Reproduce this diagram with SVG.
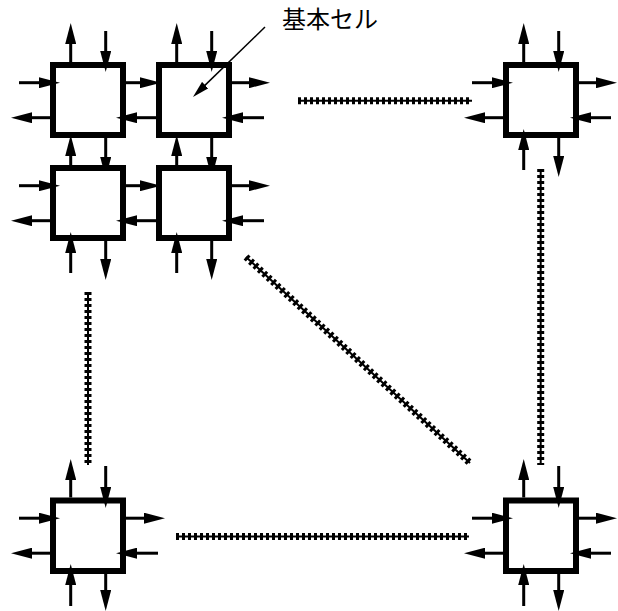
<svg xmlns="http://www.w3.org/2000/svg" width="618" height="611" viewBox="0 0 618 611">
<defs>
<style>
.box{fill:#fff;stroke:#000;stroke-width:6}
.a{stroke:#000;stroke-width:3;fill:none;marker-end:url(#ah)}
.rail{stroke:#000;stroke-width:2;fill:none}
.tick{stroke:#000;stroke-width:7;fill:none;stroke-dasharray:3 3}
.lbl{font-family:"Noto Sans CJK JP","Noto Sans",sans-serif;font-size:24px;fill:#000}
</style>
<marker id="ah" markerUnits="userSpaceOnUse" markerWidth="21" markerHeight="11" viewBox="0 0 21 11" refX="11" refY="5.5" orient="auto"><path d="M0,0 L21,5.5 L0,11 z" fill="#000"/></marker>
<marker id="lh" markerUnits="userSpaceOnUse" markerWidth="17" markerHeight="9" viewBox="0 0 17 9" refX="9" refY="4.5" orient="auto"><path d="M0,0 L17,4.5 L0,9 z" fill="#000"/></marker>
</defs>
<rect width="618" height="611" fill="#fff"/>

<g id="cellA">
<rect class="box" x="53" y="65" width="70" height="70"/>
<line class="a" x1="70.7" y1="62" x2="70.7" y2="33"/>
<line class="a" x1="105.7" y1="31" x2="105.7" y2="62"/>
<line class="a" x1="19" y1="82.7" x2="50" y2="82.7"/>
<line class="a" x1="50" y1="117.7" x2="21" y2="117.7"/>
<line class="a" x1="126" y1="82.7" x2="151" y2="82.7"/>
<line class="a" x1="156" y1="117.7" x2="126" y2="117.7"/>
<line class="a" x1="105.7" y1="138" x2="105.7" y2="168"/>
<line class="a" x1="70.7" y1="165" x2="70.7" y2="145"/>
</g>

<g id="cellB">
<rect class="box" x="159" y="65" width="70" height="70"/>
<line class="a" x1="176.7" y1="62" x2="176.7" y2="33"/>
<line class="a" x1="211.7" y1="31" x2="211.7" y2="62"/>
<line class="a" x1="232" y1="82.7" x2="260" y2="82.7"/>
<line class="a" x1="264" y1="117.7" x2="232" y2="117.7"/>
<line class="a" x1="211.7" y1="138" x2="211.7" y2="168"/>
<line class="a" x1="176.7" y1="165" x2="176.7" y2="145"/>
</g>

<g id="cellC">
<rect class="box" x="53" y="168" width="70" height="70"/>
<line class="a" x1="19" y1="185.7" x2="50" y2="185.7"/>
<line class="a" x1="50" y1="220.7" x2="21" y2="220.7"/>
<line class="a" x1="126" y1="185.7" x2="151" y2="185.7"/>
<line class="a" x1="156" y1="220.7" x2="126" y2="220.7"/>
<line class="a" x1="70.7" y1="273" x2="70.7" y2="242"/>
<line class="a" x1="105.7" y1="241" x2="105.7" y2="270"/>
</g>

<g id="cellD">
<rect class="box" x="159" y="168" width="70" height="70"/>
<line class="a" x1="232" y1="185.7" x2="260" y2="185.7"/>
<line class="a" x1="264" y1="220.7" x2="232" y2="220.7"/>
<line class="a" x1="176.7" y1="273" x2="176.7" y2="242"/>
<line class="a" x1="211.7" y1="241" x2="211.7" y2="270"/>
</g>

<g id="cellE">
<rect class="box" x="506" y="65" width="70" height="70"/>
<line class="a" x1="523.7" y1="62" x2="523.7" y2="33"/>
<line class="a" x1="558.7" y1="31" x2="558.7" y2="62"/>
<line class="a" x1="472" y1="82.7" x2="503" y2="82.7"/>
<line class="a" x1="503" y1="117.7" x2="474" y2="117.7"/>
<line class="a" x1="579" y1="82.7" x2="607" y2="82.7"/>
<line class="a" x1="611" y1="117.7" x2="580" y2="117.7"/>
<line class="a" x1="523.7" y1="170" x2="523.7" y2="139"/>
<line class="a" x1="558.7" y1="138" x2="558.7" y2="167"/>
</g>

<g id="cellF">
<rect class="box" x="53" y="500.5" width="70" height="70.5"/>
<line class="a" x1="70.7" y1="497.5" x2="70.7" y2="469"/>
<line class="a" x1="105.7" y1="466" x2="105.7" y2="498"/>
<line class="a" x1="19" y1="518.2" x2="50" y2="518.2"/>
<line class="a" x1="50" y1="553.2" x2="21" y2="553.2"/>
<line class="a" x1="126" y1="518.2" x2="155" y2="518.2"/>
<line class="a" x1="158" y1="553.2" x2="126" y2="553.2"/>
<line class="a" x1="70.7" y1="606" x2="70.7" y2="574"/>
<line class="a" x1="105.7" y1="574" x2="105.7" y2="601"/>
</g>

<g id="cellG">
<rect class="box" x="506" y="500.5" width="70" height="70.5"/>
<line class="a" x1="523.7" y1="497.5" x2="523.7" y2="469"/>
<line class="a" x1="558.7" y1="466" x2="558.7" y2="498"/>
<line class="a" x1="472" y1="518.2" x2="503" y2="518.2"/>
<line class="a" x1="503" y1="553.2" x2="474" y2="553.2"/>
<line class="a" x1="579" y1="518.2" x2="607" y2="518.2"/>
<line class="a" x1="611" y1="553.2" x2="580" y2="553.2"/>
<line class="a" x1="523.7" y1="606" x2="523.7" y2="574"/>
<line class="a" x1="558.7" y1="574" x2="558.7" y2="601"/>
</g>

<g id="connectors">
<g class="rail">
<line x1="298" y1="100.7" x2="472" y2="100.7"/>
<line x1="540.7" y1="169" x2="540.7" y2="465"/>
<line x1="88" y1="292" x2="88" y2="465"/>
<line x1="176" y1="536.5" x2="469" y2="536.5"/>
<line x1="246" y1="257" x2="470" y2="463"/>
</g>
<g class="tick">
<line x1="298" y1="100.7" x2="472" y2="100.7"/>
<line x1="540.7" y1="169" x2="540.7" y2="465"/>
<line x1="88" y1="292" x2="88" y2="465"/>
<line x1="176" y1="536.5" x2="469" y2="536.5"/>
<line x1="246" y1="257" x2="470" y2="463"/>
</g>
</g>

<g id="label">
<text class="lbl" x="282" y="28">基本セル</text>
<line x1="265" y1="27" x2="198.7" y2="91.4" stroke="#000" stroke-width="1.5" marker-end="url(#lh)"/>
</g>
</svg>
